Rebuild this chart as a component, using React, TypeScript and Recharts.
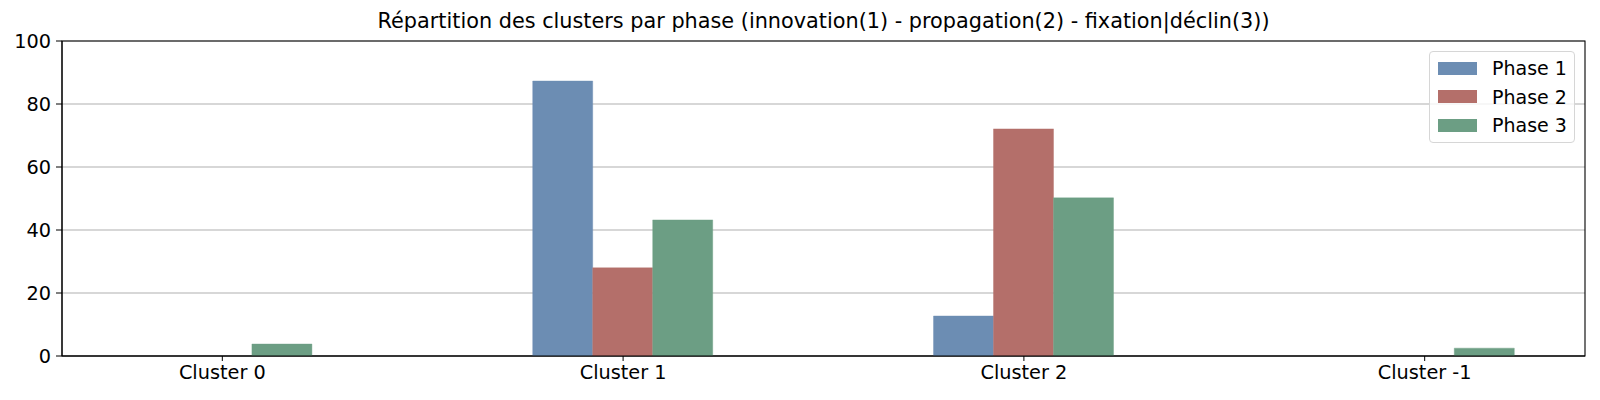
import React from 'react';
import { BarChart, Bar, XAxis, YAxis, CartesianGrid, ReferenceArea } from 'recharts';

const clusters = ['Cluster 0', 'Cluster 1', 'Cluster 2', 'Cluster -1'];
const phase1 = [0, 87.3, 12.7, 0];
const phase2 = [0, 28, 72.1, 0];
const phase3 = [3.8, 43.2, 50.2, 2.5];
const yTicks = [0, 20, 40, 60, 80, 100];

const series = [
  { key: 'phase1', name: 'Phase 1', color: '#6c8db3' },
  { key: 'phase2', name: 'Phase 2', color: '#b46f6a' },
  { key: 'phase3', name: 'Phase 3', color: '#6c9e84' },
];

const data = clusters.map((c, i) => ({
  x: i,
  label: c,
  phase1: phase1[i],
  phase2: phase2[i],
  phase3: phase3[i],
}));

const FONT = '"DejaVu Sans", sans-serif';

// legend drawn as a plain box so it doesn't eat plot space
function LegendBox() {
  return (
    <div
      style={{
        position: 'absolute',
        left: 1429,
        top: 51,
        width: 146,
        height: 92,
        boxSizing: 'border-box',
        border: '1px solid #d6d6d6',
        borderRadius: 4,
        background: 'rgba(255,255,255,0.8)',
        padding: '2px 0 0 8px',
        fontFamily: FONT,
        fontSize: 19,
        color: '#000',
      }}
    >
      {series.map((s) => (
        <div key={s.key} style={{ display: 'flex', alignItems: 'center', height: 28.5 }}>
          <span style={{ width: 39, height: 13, background: s.color, display: 'inline-block', marginRight: 15 }} />
          <span>{s.name}</span>
        </div>
      ))}
    </div>
  );
}

export default function App() {
  return (
    <div style={{ position: 'relative', width: 1600, height: 400, margin: -8, background: '#fff' }}>
      <div
        style={{
          position: 'absolute',
          left: 62,
          width: 1523,
          top: 9,
          textAlign: 'center',
          fontFamily: FONT,
          fontSize: 20.8,
          color: '#000',
          whiteSpace: 'nowrap',
        }}
      >
        Répartition des clusters par phase (innovation(1) - propagation(2) - fixation|déclin(3))
      </div>
      <BarChart
        width={1600}
        height={400}
        data={data}
        margin={{ top: 41, right: 15, left: 0, bottom: 0 }}
        barGap={0}
      >
        <CartesianGrid horizontal vertical={false} stroke="#b0b0b0" strokeOpacity={1} strokeWidth={1.1} />
        <XAxis
          dataKey="x"
          type="number"
          domain={[-0.4, 3.4]}
          ticks={[0, 1, 2, 3]}
          tickFormatter={(v: number) => clusters[v]}
          height={44}
          tickSize={5}
          tickMargin={4}
          stroke="#000"
          tick={{ fill: '#000', fontFamily: FONT, fontSize: 19.3 }}
          allowDataOverflow
        />
        <YAxis
          domain={[0, 100]}
          ticks={yTicks}
          width={62}
          tickSize={6}
          tickMargin={5}
          stroke="#000"
          tick={{ fill: '#000', fontFamily: FONT, fontSize: 19.3 }}
          allowDataOverflow
        />
        {series.map((s) => (
          <Bar
            key={s.key}
            dataKey={s.key}
            name={s.name}
            fill={s.color}
            stroke={s.color}
            strokeWidth={0.4}
            barSize={60}
            isAnimationActive={false}
          />
        ))}
        <ReferenceArea x1={-0.4} x2={3.4} y1={0} y2={100} fill="none" stroke="#000" strokeWidth={1.1} ifOverflow="visible" />
      </BarChart>
      <LegendBox />
    </div>
  );
}
